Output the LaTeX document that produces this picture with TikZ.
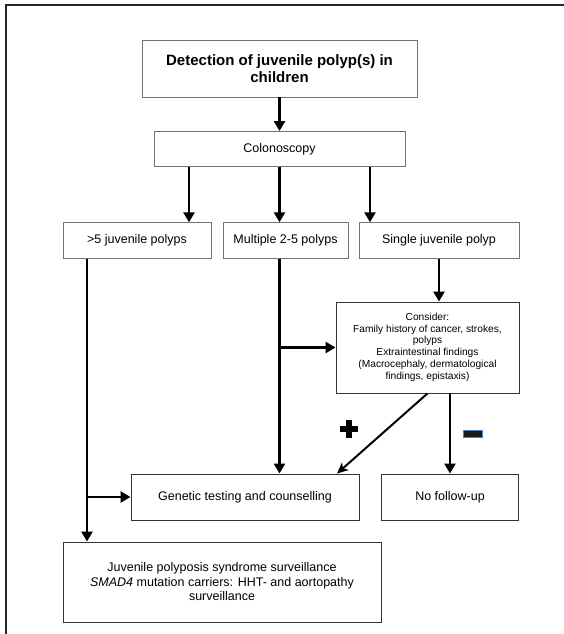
\documentclass[tikz,border=0pt]{standalone}
\usepackage{fontspec}
\setmainfont{Liberation Sans}
\usetikzlibrary{arrows.meta}
\definecolor{minusedge}{RGB}{79,129,189}
\begin{document}
\begin{tikzpicture}[x=1pt,y=-1pt,
  box/.style={draw=black!55, line width=0.9pt, inner sep=0pt, align=center,
              font=\fontsize{12.5}{14.5}\selectfont},
  darkbox/.style={box, draw=black!80},
  arr/.style={line width=2.9pt, -{Triangle[length=10pt,width=11pt]}},
  thinarr/.style={line width=2pt, -{Stealth[length=11pt,width=10pt,inset=3pt]}}]
\useasboundingbox (0,0) rectangle (564,634);

% page frame (top and left edges)
\draw[black!85, line width=1.3pt] (6,634) -- (6,5) -- (564,5);

% boxes
\node[box, minimum width=275pt, minimum height=57pt,
      font=\bfseries\fontsize{15}{17.3}\selectfont] (detect) at (279.5,68.5)
  {Detection of juvenile polyp(s) in\\children};
\node[box, minimum width=251pt, minimum height=35pt] (colon) at (279.5,149)
  {\raisebox{3pt}{Colonoscopy}};
\node[box, minimum width=148pt, minimum height=35.5pt] (many) at (137,240.5)
  {>5 juvenile polyps};
\node[box, minimum width=125pt, minimum height=35.5pt] (multi) at (285.5,240.5)
  {Multiple 2-5 polyps};
\node[box, minimum width=160pt, minimum height=35.5pt] (single) at (439,240.5)
  {Single juvenile polyp};
\node[darkbox, minimum width=183pt, minimum height=91pt] (consider) at (427.5,347.5)
  {\fontsize{10.2}{11.7}\selectfont\raisebox{6pt}{\begin{tabular}{@{}c@{}}Consider:\\
   Family history of cancer, strokes,\\ polyps\\ Extraintestinal findings\\
   (Macrocephaly, dermatological\\ findings, epistaxis)\end{tabular}}};
\node[darkbox, minimum width=228pt, minimum height=46pt] (genetic) at (245,497)
  {Genetic testing and counselling};
\node[darkbox, minimum width=137pt, minimum height=46pt] (nofollow) at (450,497)
  {No follow-up};
\node[darkbox, minimum width=318pt, minimum height=80pt] (jps) at (222,582)
  {Juvenile polyposis syndrome surveillance\\
   \textit{SMAD4} mutation carriers: HHT- and aortopathy\\ surveillance};

% column positions of the connectors
\coordinate (k1) at (189,0);
\coordinate (km) at (279.5,0);
\coordinate (k3) at (370,0);
\coordinate (kl) at (87,0);
\coordinate (kr) at (439,0);
\coordinate (kd) at (337,0);

% connectors
\draw[arr] (detect.south) -- (colon.north);
\draw[arr] (colon.south -| k1) -- (many.north -| k1);
\draw[arr] (colon.south -| km) -- (multi.north -| km);
\draw[arr] (colon.south -| k3) -- (single.north -| k3);
\draw[arr] (many.south -| kl) -- (jps.north -| kl);
\draw[arr] (kl |- genetic.west) -- (genetic.west);
\draw[arr] (multi.south -| km) -- (genetic.north -| km);
\draw[arr] (km |- consider.west) -- (consider.west);
\draw[arr] (single.south -| kr) -- (consider.north -| kr);
\draw[thinarr] (consider.south) -- (genetic.north -| kd);
\draw[arr] (consider.south -| nofollow.north) -- (nofollow.north);

% outcome signs
\coordinate (plus) at (349,429);
\draw[line width=5.8pt] ([xshift=-9pt]plus) -- ([xshift=9pt]plus)
                        ([yshift=-9pt]plus) -- ([yshift=9pt]plus);
\coordinate (minus) at (473,434);
\draw[minusedge, line width=1.2pt, fill=black!90]
  ([xshift=-9.5pt,yshift=-3.3pt]minus) rectangle ([xshift=9.5pt,yshift=3.3pt]minus);
\end{tikzpicture}
\end{document}
